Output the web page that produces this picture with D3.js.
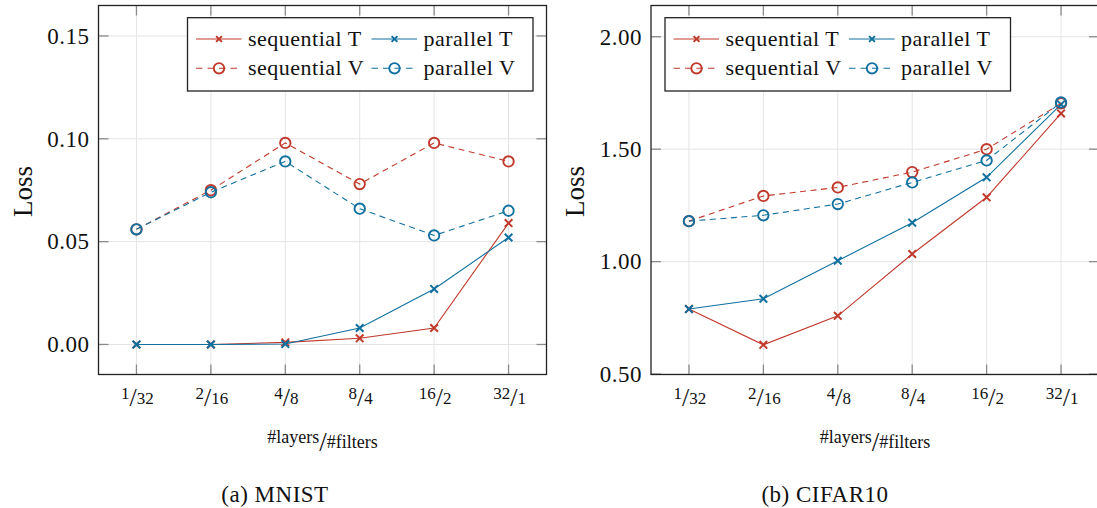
<!DOCTYPE html>
<html>
<head>
<meta charset="utf-8">
<script src="https://cdn.jsdelivr.net/npm/d3@7"></script>
<style>
  html, body { margin: 0; padding: 0; background: #fff; }
  svg { display: block; }
  text { font-family: "Liberation Serif", "Times New Roman", serif; fill: #111; }
</style>
</head>
<body>
<script>
// x categories (#layers / #filters)
const categories = ["1/32", "2/16", "4/8", "8/4", "16/2", "32/1"];
const seriesNames = ["sequential T", "parallel T", "sequential V", "parallel V"];

// MNIST loss
const mnistTicks = [0.00, 0.05, 0.10, 0.15];
const mnistSeqT = [0.000, 0.000, 0.001, 0.003, 0.008, 0.059];
const mnistParT = [0.000, 0.000, 0.0002, 0.008, 0.027, 0.052];
const mnistSeqV = [0.056, 0.075, 0.098, 0.078, 0.098, 0.089];
const mnistParV = [0.056, 0.074, 0.089, 0.066, 0.053, 0.065];

// CIFAR10 loss
const cifarTicks = [0.50, 1.00, 1.50, 2.00];
const cifarSeqT = [0.789, 0.630, 0.759, 1.034, 1.286, 1.659];
const cifarParT = [0.789, 0.835, 1.004, 1.173, 1.375, 1.699];
const cifarSeqV = [1.180, 1.292, 1.330, 1.398, 1.500, 1.704];
const cifarParV = [1.180, 1.206, 1.256, 1.352, 1.450, 1.708];

const RED = "#c0392b";
const BLUE = "#10709f";

const svg = d3.select("body").append("svg")
    .attr("width", 1097)
    .attr("height", 508);

function drawMarker(g, kind, cx, cy, color, size) {
    if (kind === "x") {
        const s = size;
        g.append("path")
            .attr("d", `M${cx - s},${cy - s}L${cx + s},${cy + s}M${cx - s},${cy + s}L${cx + s},${cy - s}`)
            .style("stroke", color)
            .style("stroke-width", 2)
            .style("fill", "none");
    } else {
        g.append("circle")
            .attr("cx", cx).attr("cy", cy).attr("r", size)
            .style("stroke", color)
            .style("stroke-width", 1.9)
            .style("fill", "none");
    }
}

function drawPanel(p) {
    const g = svg.append("g");

    const x = d3.scalePoint().domain(categories).range([p.left, p.right]).padding(0.51);
    const y = d3.scaleLinear().domain(p.yDomain).range([p.bottom, p.top]);

    // Gitterlinien
    categories.forEach(c => {
        g.append("line")
            .attr("x1", x(c)).attr("x2", x(c))
            .attr("y1", p.top).attr("y2", p.bottom)
            .style("stroke", "#e4e4e4").style("stroke-width", 1);
    });
    p.ticks.forEach(t => {
        g.append("line")
            .attr("x1", p.left).attr("x2", p.right)
            .attr("y1", y(t)).attr("y2", y(t))
            .style("stroke", "#e4e4e4").style("stroke-width", 1);
    });

    // Tick marks, inside on all four sides
    const tl = 10;
    categories.forEach(c => {
        g.append("line").attr("x1", x(c)).attr("x2", x(c))
            .attr("y1", p.bottom).attr("y2", p.bottom - tl)
            .style("stroke", "#8a8a8a").style("stroke-width", 1.3);
        g.append("line").attr("x1", x(c)).attr("x2", x(c))
            .attr("y1", p.top).attr("y2", p.top + tl)
            .style("stroke", "#8a8a8a").style("stroke-width", 1.3);
    });
    p.ticks.forEach(t => {
        g.append("line").attr("x1", p.left).attr("x2", p.left + tl)
            .attr("y1", y(t)).attr("y2", y(t))
            .style("stroke", "#8a8a8a").style("stroke-width", 1.3);
        g.append("line").attr("x1", p.right).attr("x2", p.right - tl)
            .attr("y1", y(t)).attr("y2", y(t))
            .style("stroke", "#8a8a8a").style("stroke-width", 1.3);
    });

    // Serien
    const series = [
        { name: seriesNames[0], values: p.data[0], color: RED, dash: null, marker: "x" },
        { name: seriesNames[1], values: p.data[1], color: BLUE, dash: null, marker: "x" },
        { name: seriesNames[2], values: p.data[2], color: RED, dash: "6,4.5", marker: "o" },
        { name: seriesNames[3], values: p.data[3], color: BLUE, dash: "6,4.5", marker: "o" }
    ];

    const line = d3.line()
        .x((d, i) => x(categories[i]))
        .y(d => y(d));

    series.forEach(s => {
        g.append("path")
            .attr("d", line(s.values))
            .style("fill", "none")
            .style("stroke", s.color)
            .style("stroke-width", 1.1)
            .style("stroke-dasharray", s.dash);
        s.values.forEach((v, i) => {
            drawMarker(g, s.marker, x(categories[i]), y(v), s.color, s.marker === "x" ? 3.8 : 5.2);
        });
    });

    // Rahmen
    g.append("rect")
        .attr("x", p.left).attr("y", p.top)
        .attr("width", p.right - p.left).attr("height", p.bottom - p.top)
        .style("fill", "none").style("stroke", "#222").style("stroke-width", 1.3);

    // y tick labels
    p.ticks.forEach(t => {
        g.append("text")
            .attr("x", p.left - 9)
            .attr("y", y(t) + 7.8)
            .attr("text-anchor", "end")
            .style("font-size", "23px")
            .style("letter-spacing", "0.5px")
            .text(d3.format(".2f")(t));
    });

    // x tick labels as nice fractions
    categories.forEach(c => {
        const [num, den] = c.split("/");
        const t = g.append("text")
            .attr("x", x(c) + 1)
            .attr("y", 398.5)
            .attr("text-anchor", "middle");
        t.append("tspan").style("font-size", "17px").text(num);
        t.append("tspan").attr("dy", 7).style("font-size", "26px").text("/");
        t.append("tspan").attr("dy", -2).style("font-size", "17px").text(den);
    });

    // axis titles
    const cx = (p.left + p.right) / 2;
    const xl = g.append("text")
        .attr("x", cx)
        .attr("y", 443)
        .attr("text-anchor", "middle");
    xl.append("tspan").style("font-size", "18px").text("#layers");
    xl.append("tspan").attr("dy", 8).style("font-size", "27px").text("/");
    xl.append("tspan").attr("dy", -3).style("font-size", "18px").text("#filters");

    g.append("text")
        .attr("transform", `translate(${p.left - 67},191.5) rotate(-90)`)
        .attr("text-anchor", "middle")
        .style("font-size", "27px")
        .text("Loss");

    // caption
    g.append("text")
        .attr("x", p.captionX)
        .attr("y", 501.5)
        .attr("text-anchor", "middle")
        .style("font-size", "23px")
        .style("letter-spacing", "0.5px")
        .text(p.caption);

    // Legende
    const lx = p.legendX, ly = 17.7;
    const leg = g.append("g");
    leg.append("rect")
        .attr("x", lx).attr("y", ly)
        .attr("width", 345.5).attr("height", 73.3)
        .style("fill", "#fff").style("stroke", "#222").style("stroke-width", 1.3);
    const cols = [0, 175.5];
    const rows = [39, 68.3];
    series.forEach((s, i) => {
        const colX = lx + cols[i % 2];
        const rowY = rows[Math.floor(i / 2)];
        leg.append("line")
            .attr("x1", colX + 8.5).attr("x2", colX + 54)
            .attr("y1", rowY).attr("y2", rowY)
            .style("stroke", s.color).style("stroke-width", 1.1)
            .style("stroke-dasharray", s.dash ? "6.5,5" : null);
        drawMarker(leg, s.marker, colX + 31.5, rowY, s.color, s.marker === "x" ? 2.9 : 5.2);
        leg.append("text")
            .attr("x", colX + 60.5)
            .attr("y", rowY + 6.5)
            .style("font-size", "22px")
            .style("letter-spacing", "0.5px")
            .text(s.name);
    });
}

drawPanel({
    left: 98.5, right: 546.5, top: 5.5, bottom: 374.5,
    yDomain: [-0.0146, 0.1648],
    ticks: mnistTicks,
    data: [mnistSeqT, mnistParT, mnistSeqV, mnistParV],
    legendX: 187.5,
    caption: "(a) MNIST",
    captionX: 275
});

drawPanel({
    left: 651, right: 1099, top: 5.5, bottom: 374.5,
    yDomain: [0.498, 2.139],
    ticks: cifarTicks,
    data: [cifarSeqT, cifarParT, cifarSeqV, cifarParV],
    legendX: 665,
    caption: "(b) CIFAR10",
    captionX: 825
});
</script>
</body>
</html>
